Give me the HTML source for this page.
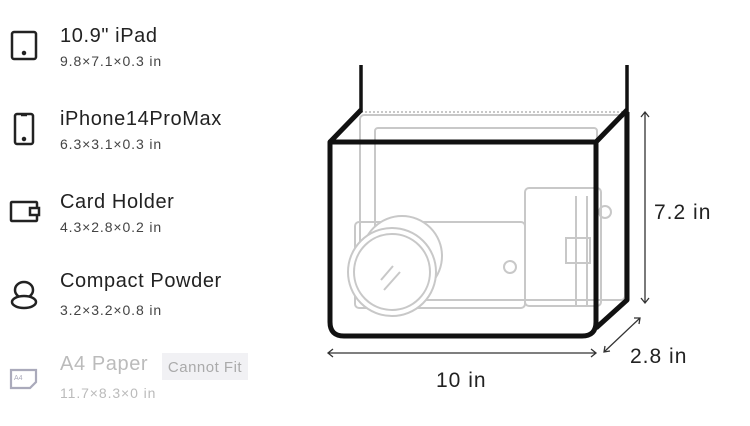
<!DOCTYPE html>
<html><head><style>
body{margin:0;width:750px;height:426px;background:#fff;font-family:"Liberation Sans",sans-serif;position:relative;overflow:hidden}
.t{position:absolute;left:60px;font-size:20px;letter-spacing:0.6px;color:#222}
.s{position:absolute;left:60px;font-size:14px;letter-spacing:0.9px;color:#444}
.g{color:#bbb}
</style></head><body>
<div class="t" style="top:25px">10.9" iPad</div><div class="s" style="top:53px">9.8×7.1×0.3 in</div>
<div class="t" style="top:108px">iPhone14ProMax</div><div class="s" style="top:136px">6.3×3.1×0.3 in</div>
<div class="t" style="top:191px">Card Holder</div><div class="s" style="top:219px">4.3×2.8×0.2 in</div>
<div class="t" style="top:270px">Compact Powder</div><div class="s" style="top:302px">3.2×3.2×0.8 in</div>
<div class="t g" style="top:353px">A4 Paper</div><div class="s g" style="top:385px">11.7×8.3×0 in</div>
<div style="position:absolute;left:162px;top:353px;width:86px;height:27px;background:#f1f1f4;color:#aaa;font-size:15px;letter-spacing:0.5px;line-height:29px;text-align:center">Cannot Fit</div>
<svg width="750" height="426" style="position:absolute;left:0;top:0">
<g fill="none" stroke="#222" stroke-width="2.5">
<rect x="12" y="32" width="24" height="27" rx="2"/><circle cx="24" cy="53" r="1" fill="#222"/>
<rect x="15" y="114" width="18" height="30" rx="2"/><path d="M21 115h6"/><circle cx="24" cy="139" r="1" fill="#222"/>
<rect x="11" y="202" width="26" height="19" rx="1"/><rect x="30" y="208" width="9" height="7" fill="#fff"/>
<ellipse cx="24" cy="290" rx="9" ry="8"/><ellipse cx="24" cy="302" rx="12" ry="6" fill="#fff"/>
</g>
<g fill="none" stroke="#aab" stroke-width="2.2"><path d="M11 370h25v12l-6 6H11z"/><text x="14" y="380" font-size="7" fill="#aab" stroke="none">A4</text></g>
<g fill="none" stroke="#c8c8c8" stroke-width="2">
<path d="M361 112H626" stroke-dasharray="2 2"/>
<rect x="360" y="115" width="265" height="185" rx="4"/>
<rect x="375" y="128" width="222" height="172" rx="3"/>
<rect x="355" y="222" width="170" height="86" rx="4"/>
<circle cx="510" cy="267" r="6"/>
<rect x="525" y="188" width="76" height="118" rx="4"/>
<rect x="566" y="238" width="24" height="25"/>
<path d="M576 196v110M587 196v110"/>
<circle cx="605" cy="212" r="6"/>
<circle cx="402" cy="256" r="40" fill="#fff"/>
<circle cx="392" cy="272" r="44" fill="#fff"/>
<circle cx="392" cy="272" r="38"/>
<path d="M381 280l12-14M384 290l16-18"/>
</g>
<g fill="none" stroke="#111" stroke-width="3.5"><path d="M361 65V112M627 65V112"/></g>
<g fill="none" stroke="#111" stroke-width="5" stroke-linejoin="round">
<path d="M361 110L330 142M627 110L596 142M627 112V300L596 328"/>
<path d="M330 142H596V322Q596 336 582 336H344Q330 336 330 322Z"/>
</g>
<g stroke="#333" stroke-width="1.3" fill="none">
<path d="M645 112V303M641 117l4-5 4 5M641 298l4 5 4-5"/>
<path d="M328 353H596M333 349l-5 4 5 4M591 349l5 4-5 4"/>
<path d="M604 352L640 318M605 346l-1 6 6-1M634 318l6 0-1 6"/>
</g>
<g font-size="21" fill="#222" letter-spacing="1"><text x="654" y="219">7.2 in</text><text x="436" y="387">10 in</text><text x="630" y="363">2.8 in</text></g>
</svg>
</body></html>
